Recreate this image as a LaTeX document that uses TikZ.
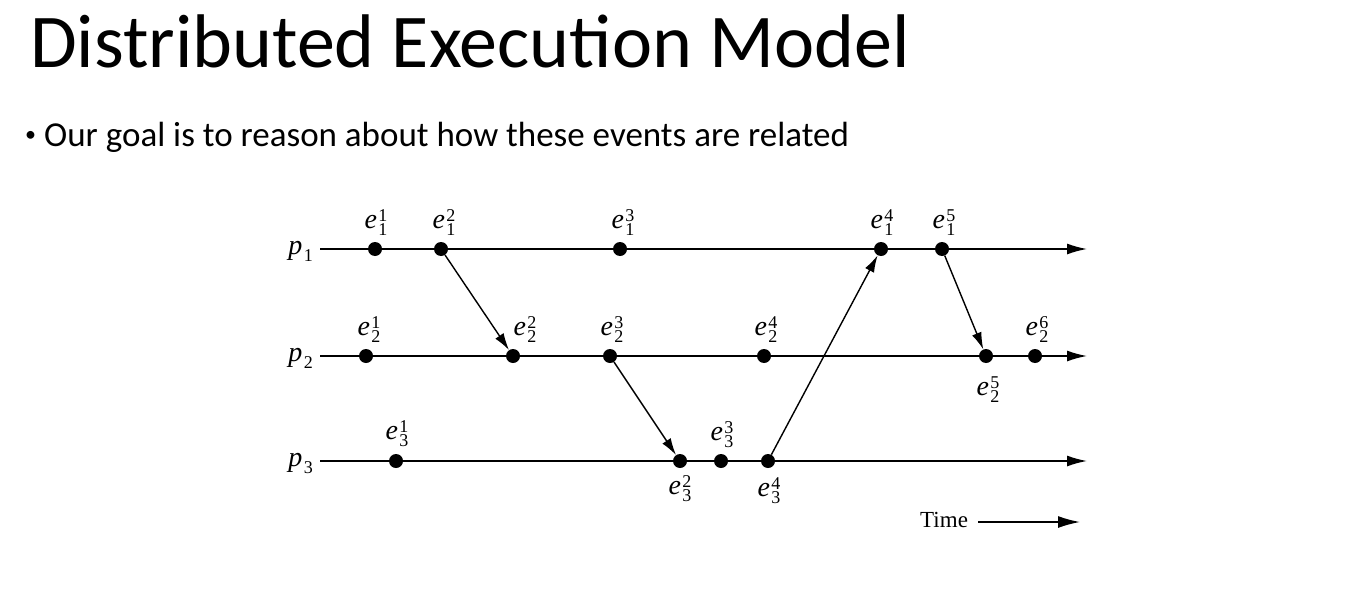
\documentclass[tikz,border=0pt]{standalone}
\usepackage{fontspec}
\usetikzlibrary{arrows.meta}
\newfontfamily\calib{Carlito}
\newfontfamily\tms{Liberation Serif}
% event and process labels: italic letter with stacked index digits
\newcommand\scr[1]{{\fontsize{18}{20}\selectfont\upshape #1}}
\newcommand\ev[2]{{\tms\fontsize{28}{30}\selectfont\itshape e\kern1.2pt\rlap{\raisebox{7pt}{\scr{#2}}}\raisebox{-7pt}{\scr{#1}}}}
\newcommand\proc[1]{{\tms\fontsize{28}{30}\selectfont\itshape p\kern1.5pt\raisebox{-7pt}{\scr{#1}}}}
\begin{document}
\begin{tikzpicture}[x=1pt,y=-1pt,
  every node/.style={inner sep=0pt},
  evdot/.style={circle,fill=black,minimum size=14pt},
  proclbl/.style={anchor=base east},
  procline/.style={line width=1.6pt,-{Latex[length=20pt,width=11pt]}},
  msg/.style={line width=1.4pt,-{Latex[length=17pt,width=10pt]}},
  titletext/.style={font=\calib\fontsize{76}{80}\selectfont,anchor=base west},
  bodytext/.style={font=\calib\fontsize{35}{40}\selectfont,anchor=base west}]
\useasboundingbox (0,0) rectangle (1348,594);

% heading and bullet
\node[titletext] (title) at (30,67) {Distributed Execution Model};
\node[font=\calib\fontsize{22}{24}\selectfont,anchor=base west] (bul) at (25,141) {\textbullet};
\node[bodytext] (goal) at (44,146) {Our goal is to reason about how these events are related};

% process time lines
\coordinate (s1) at (320,249); \coordinate (t1) at (1087,249);
\coordinate (s2) at (320,356); \coordinate (t2) at (1087,356);
\coordinate (s3) at (320,461); \coordinate (t3) at (1087,461);
\draw[procline] (s1) -- (t1);
\draw[procline] (s2) -- (t2);
\draw[procline] (s3) -- (t3);
\node[proclbl] (p1) at (313,254) {\proc{1}};
\node[proclbl] (p2) at (313,361) {\proc{2}};
\node[proclbl] (p3) at (313,466) {\proc{3}};

% events of p1
\node[evdot] (e11) at (375,249) {};
\node[evdot] (e12) at (441,249) {};
\node[evdot] (e13) at (620,249) {};
\node[evdot] (e14) at (881,249) {};
\node[evdot] (e15) at (942,249) {};
% events of p2
\node[evdot] (e21) at (366,356) {};
\node[evdot] (e22) at (513,356) {};
\node[evdot] (e23) at (610,356) {};
\node[evdot] (e24) at (764,356) {};
\node[evdot] (e25) at (986,356) {};
\node[evdot] (e26) at (1035,356) {};
% events of p3
\node[evdot] (e31) at (396,461) {};
\node[evdot] (e32) at (680,461) {};
\node[evdot] (e33) at (721,461) {};
\node[evdot] (e34) at (768,461) {};

% event labels
\node[anchor=south] (l11) at (376,236) {\ev{1}{1}};
\node[anchor=south] (l12) at (444,236) {\ev{1}{2}};
\node[anchor=south] (l13) at (623,236) {\ev{1}{3}};
\node[anchor=south] (l14) at (882,236) {\ev{1}{4}};
\node[anchor=south] (l15) at (944,236) {\ev{1}{5}};
\node[anchor=south] (l21) at (369,343) {\ev{2}{1}};
\node[anchor=south] (l22) at (525,343) {\ev{2}{2}};
\node[anchor=south] (l23) at (612,343) {\ev{2}{3}};
\node[anchor=south] (l24) at (766,343) {\ev{2}{4}};
\node[anchor=north] (l25) at (988,377) {\ev{2}{5}};
\node[anchor=south] (l26) at (1037,343) {\ev{2}{6}};
\node[anchor=south] (l31) at (397,447) {\ev{3}{1}};
\node[anchor=north] (l32) at (680,475) {\ev{3}{2}};
\node[anchor=south] (l33) at (722,448) {\ev{3}{3}};
\node[anchor=north] (l34) at (769,477) {\ev{3}{4}};

% messages
\draw[msg] (e12) -- (e22);
\draw[msg] (e23) -- (e32);
\draw[msg] (e34) -- (e14);
\draw[msg] (e15) -- (e25);

% time axis
\node[font=\tms\fontsize{23}{26}\selectfont,anchor=base west] (time) at (920,527) {Time};
\coordinate (ta) at (978,522); \coordinate (tb) at (1080,522);
\draw[line width=1.6pt,-{Latex[length=22pt,width=12pt]}] (ta) -- (tb);
\end{tikzpicture}
\end{document}
